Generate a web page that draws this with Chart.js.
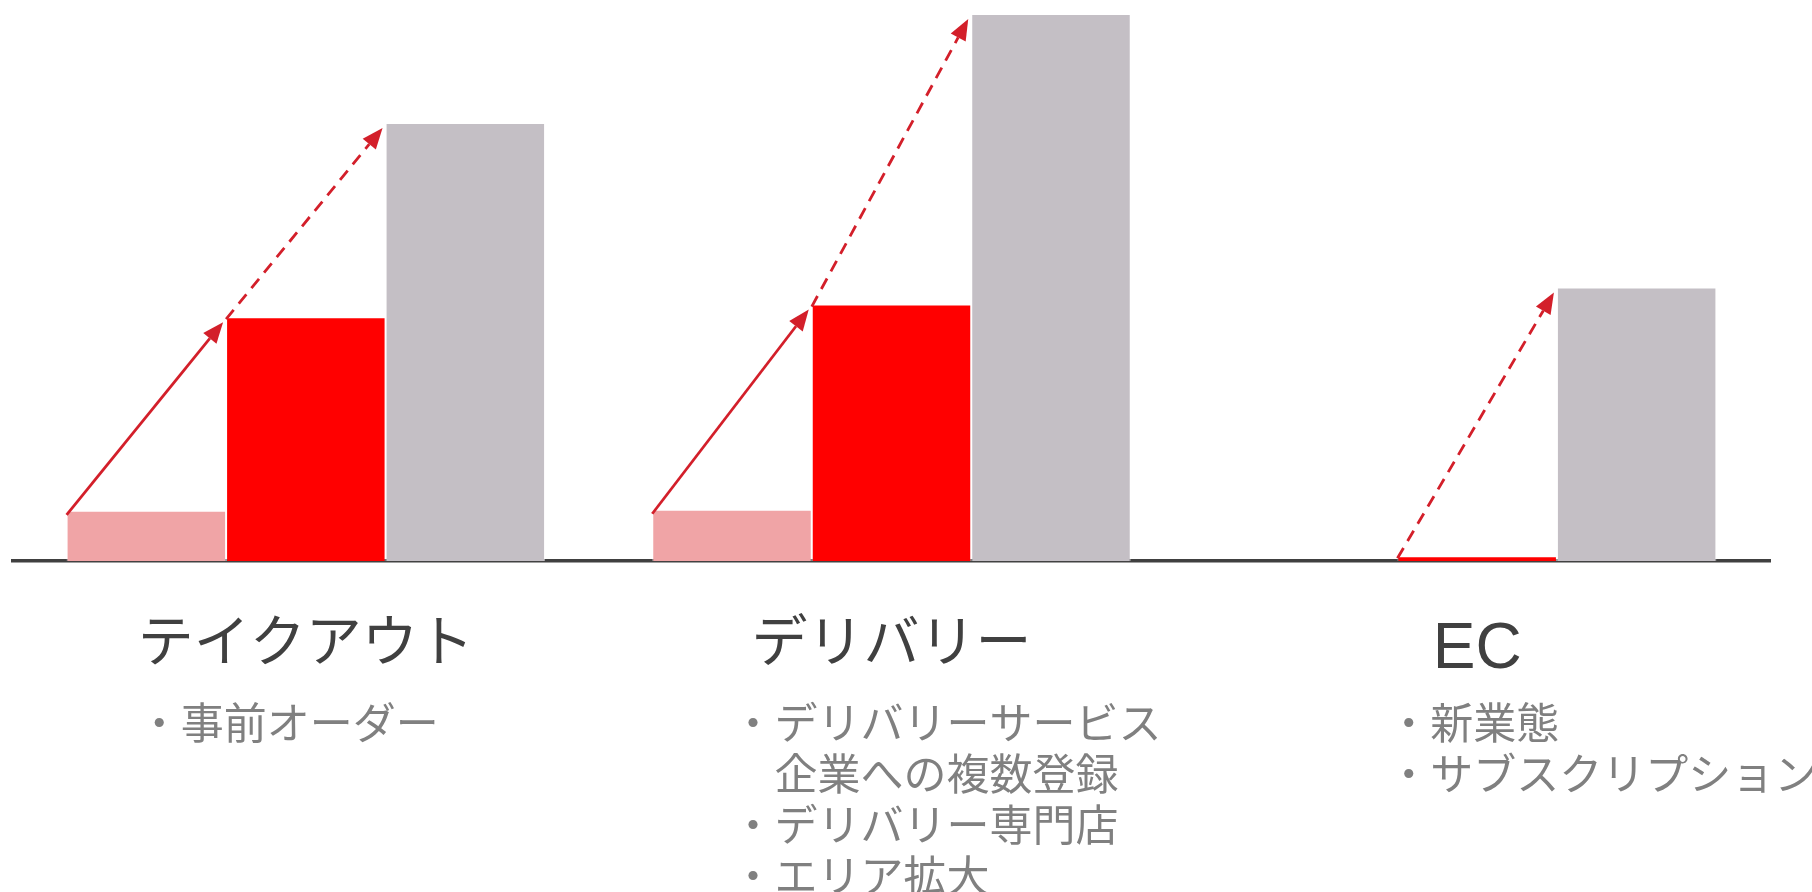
<!DOCTYPE html>
<html>
<head>
<meta charset="utf-8">
<script src="https://cdn.jsdelivr.net/npm/chart.js@4.4.1/dist/chart.umd.min.js"></script>
<style>
  body { margin: 0; background: #fff; }
</style>
</head>
<body>
<canvas id="growth-chart" width="1812" height="892"></canvas>
<script>
const categories = ["テイクアウト", "デリバリー", "EC"];
const pastValues = [9.2, 9.4, null];
const currentValues = [44.6, 46.9, 0.9];
const futureValues = [80.1, 100, 50];
const bulletLines = [
  ["・事前オーダー"],
  ["・デリバリーサービス", "　企業への複数登録", "・デリバリー専門店", "・エリア拡大"],
  ["・新業態", "・サブスクリプション"],
];

// where each bullet block starts, counted from its category centre
const bulletShift = [-168, -160, -90];
const arrowColor = "rgb(211,31,42)";

function drawArrow(ctx, x1, y1, x2, y2, dashed) {
  const ang = Math.atan2(y2 - y1, x2 - x1);
  const headLen = 21, headHalf = 8.5;
  const bx = x2 - headLen * Math.cos(ang);
  const by = y2 - headLen * Math.sin(ang);
  ctx.save();
  ctx.strokeStyle = arrowColor;
  ctx.fillStyle = arrowColor;
  ctx.lineWidth = 2.8;
  ctx.setLineDash(dashed ? [12, 8] : []);
  ctx.beginPath();
  ctx.moveTo(x1, y1);
  ctx.lineTo(bx, by);
  ctx.stroke();
  ctx.setLineDash([]);
  ctx.beginPath();
  ctx.moveTo(x2, y2);
  ctx.lineTo(bx + headHalf * Math.sin(ang), by - headHalf * Math.cos(ang));
  ctx.lineTo(bx - headHalf * Math.sin(ang), by + headHalf * Math.cos(ang));
  ctx.closePath();
  ctx.fill();
  ctx.restore();
}

// arrows go from the top-left corner of one bar to the next bar in the group
const arrowPlugin = {
  id: "growthArrows",
  afterDatasetsDraw(chart) {
    const ctx = chart.ctx;
    const bars = [0, 1, 2].map((i) => chart.getDatasetMeta(i).data);
    categories.forEach((c, j) => {
      for (let k = 0; k < 2; k++) {
        if (!chart.data.datasets[k].data[j]) continue;
        const from = bars[k][j], to = bars[k + 1][j];
        drawArrow(ctx, from.x - from.width / 2, from.y + (k === 0 ? 4 : 2),
          to.x - to.width / 2 - 3, to.y + 5, k === 1);
      }
    });
  },
};

const bulletPlugin = {
  id: "bulletText",
  afterDraw(chart) {
    const ctx = chart.ctx;
    const xScale = chart.scales.x;
    const firstLine = chart.chartArea.bottom + 161;
    ctx.save();
    ctx.font = "43px 'Noto Sans CJK JP'";
    ctx.fillStyle = "#808080";
    ctx.textBaseline = "middle";
    ctx.textAlign = "left";
    bulletLines.forEach((lines, i) => {
      const x = xScale.getPixelForValue(i) + bulletShift[i];
      lines.forEach((t, n) => ctx.fillText(t, x, firstLine + n * 51));
    });
    ctx.restore();
  },
};

new Chart(document.getElementById("growth-chart"), {
  type: "bar",
  data: {
    labels: categories,
    datasets: [
      { data: pastValues, backgroundColor: "#f0a4a6" },
      { data: currentValues, backgroundColor: "#ff0000" },
      { data: futureValues, backgroundColor: "#c4bfc5" },
    ],
  },
  options: {
    responsive: false,
    animation: false,
    categoryPercentage: 0.817,
    barPercentage: 1,
    datasets: {
      bar: { borderWidth: 1, borderColor: "rgba(255,255,255,0.55)" },
    },
    layout: { padding: { left: 13, right: 42, top: 14, bottom: 152 } },
    plugins: {
      legend: { display: false },
      tooltip: { enabled: false },
    },
    scales: {
      x: {
        z: 1,
        grid: { display: false, drawTicks: false },
        border: { color: "#404040", width: 3.5 },
        ticks: {
          color: "#404040",
          padding: 51,
          font: (c) => ({
            family: "'Liberation Sans', 'Noto Sans CJK JP'",
            size: c.index === 2 ? 64 : 56,
          }),
        },
      },
      y: { display: false, min: 0, max: 100 },
    },
  },
  plugins: [arrowPlugin, bulletPlugin],
});
</script>
</body>
</html>
